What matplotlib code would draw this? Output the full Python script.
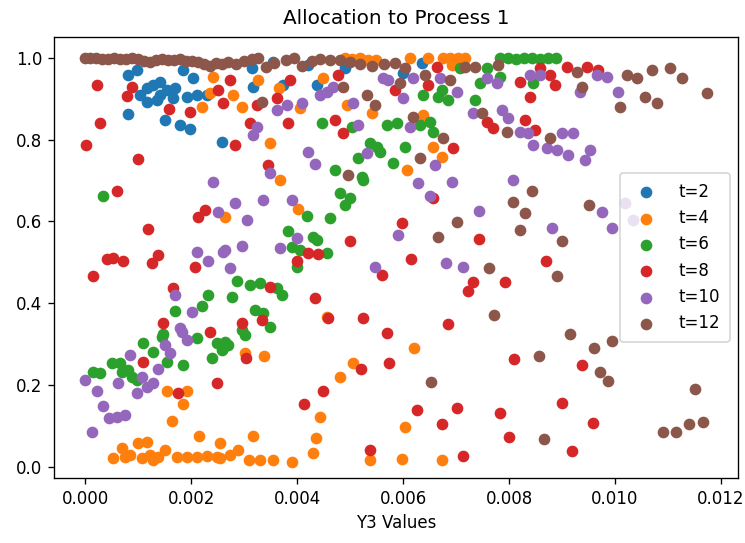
import numpy as np
import matplotlib
matplotlib.use("Agg")
import matplotlib.pyplot as plt

# Y3 values are listed in units of 1e-3, allocations as fractions.
t2_points = [
    (0.81, 0.958), (0.97, 0.971), (0.81, 0.863), (1.17, 0.927), (1.28, 0.934),
    (1.41, 0.941), (1.54, 0.922), (1.17, 0.892), (1.36, 0.897), (1.66, 0.902),
    (1.92, 0.905), (2.11, 0.910), (2.30, 0.910), (1.51, 0.848), (1.79, 0.836),
    (1.97, 0.826), (1.84, 0.971), (2.04, 0.951), (2.58, 0.795), (3.15, 0.976),
    (3.54, 0.990), (3.17, 0.929), (3.74, 0.934), (4.37, 0.934), (4.91, 0.976),
    (4.20, 0.983), (6.36, 0.988), (6.00, 0.963), (1.04, 0.910), (1.69, 0.927),
    (1.41, 0.910),
]

t4_points = [
    (2.41, 0.954), (2.36, 0.914), (2.21, 0.880), (2.79, 0.910), (2.96, 0.880),
    (3.26, 0.946), (3.65, 0.927), (4.06, 0.878), (3.49, 0.792), (3.68, 0.702),
    (4.94, 0.885), (5.42, 0.866), (4.49, 0.951),
    (4.91, 1.000), (5.04, 0.998), (5.19, 1.000), (5.34, 0.995), (5.49, 0.995),
    (6.13, 1.000), (6.47, 1.000), (6.75, 1.000), (6.88, 1.000), (7.03, 1.000),
    (7.17, 1.000), (6.92, 0.983),
    (6.38, 0.861), (6.57, 0.782), (6.73, 0.758), (6.07, 0.726), (4.02, 0.631),
    (2.64, 0.611), (4.57, 0.367),
    (1.54, 0.186), (1.93, 0.186), (1.85, 0.154), (1.64, 0.112), (2.15, 0.076),
    (2.54, 0.059),
    (0.53, 0.022), (0.69, 0.046), (0.84, 0.029), (0.99, 0.059), (1.17, 0.061),
    (1.08, 0.022), (1.23, 0.029), (1.38, 0.024), (1.51, 0.042), (1.73, 0.024),
    (1.93, 0.024), (2.11, 0.024), (2.30, 0.027), (2.49, 0.024), (0.75, 0.024),
    (1.28, 0.017),
    (3.02, 0.279), (3.37, 0.271), (5.05, 0.254), (4.81, 0.220), (4.43, 0.122),
    (4.35, 0.071), (4.30, 0.034), (3.91, 0.012), (3.54, 0.017), (3.30, 0.017),
    (3.09, 0.017), (2.89, 0.042), (2.74, 0.029), (2.54, 0.022), (3.17, 0.076),
    (5.38, 0.017),
    (6.21, 0.291), (6.03, 0.098), (5.98, 0.020), (6.73, 0.017),
]

t6_points = [
    (7.83, 1.000), (7.98, 1.000), (8.14, 0.998), (8.28, 1.000), (8.43, 1.000),
    (8.58, 0.998), (8.73, 1.000), (8.89, 1.000),
    (7.58, 0.976), (7.83, 0.954), (7.45, 0.939), (7.07, 0.976), (6.73, 0.922),
    (6.38, 0.910), (6.66, 0.905), (6.85, 0.897), (7.36, 0.897), (8.45, 0.939),
    (5.89, 0.841), (6.32, 0.836), (6.51, 0.844), (6.57, 0.819), (6.03, 0.782),
    (5.81, 0.743),
    (4.47, 0.841), (5.04, 0.831), (5.70, 0.836), (5.38, 0.792), (5.51, 0.782),
    (5.57, 0.770), (5.15, 0.756), (4.72, 0.726), (5.22, 0.709), (5.24, 0.702),
    (4.81, 0.670), (5.00, 0.658), (4.91, 0.641), (4.19, 0.614), (4.63, 0.609),
    (3.83, 0.577), (4.30, 0.562), (4.37, 0.555), (3.91, 0.538), (4.06, 0.531),
    (4.57, 0.523), (4.00, 0.489),
    (2.87, 0.455), (3.11, 0.445), (3.30, 0.450), (3.63, 0.438), (3.72, 0.421),
    (2.78, 0.416), (3.21, 0.384), (3.36, 0.377), (3.49, 0.342), (2.96, 0.335),
    (0.34, 0.663), (2.32, 0.421), (2.21, 0.394), (1.69, 0.381), (1.47, 0.325),
    (1.10, 0.303), (1.45, 0.318), (1.28, 0.281), (1.54, 0.257), (1.85, 0.249),
    (2.11, 0.315), (2.39, 0.267), (2.49, 0.303),
    (0.15, 0.232), (0.28, 0.230), (0.51, 0.254), (0.66, 0.254), (0.69, 0.232),
    (0.81, 0.237), (0.88, 0.220), (0.98, 0.213),
    (2.58, 0.286), (2.64, 0.306), (2.70, 0.298), (2.60, 0.291), (3.02, 0.323),
]

t8_points = [
    (0.23, 0.934), (0.28, 0.841), (0.01, 0.787), (0.99, 0.753), (0.88, 0.929),
    (0.79, 0.907), (1.58, 0.875), (1.98, 0.868), (2.51, 0.922), (2.60, 0.890),
    (2.74, 0.946), (3.24, 0.885), (3.63, 0.902), (3.87, 0.946), (3.11, 0.841),
    (3.83, 0.841), (2.83, 0.787), (4.72, 0.848), (4.87, 0.817), (4.77, 0.958),
    (3.45, 0.738),
    (6.64, 0.978), (5.85, 0.922), (6.47, 0.934), (8.21, 0.941), (8.40, 0.905),
    (8.86, 0.934), (8.77, 0.958), (8.58, 0.976), (8.30, 0.848), (7.58, 0.844),
    (7.70, 0.829), (8.49, 0.824), (6.94, 0.780), (9.10, 0.978), (9.47, 0.978),
    (9.68, 0.971),
    (0.60, 0.675), (1.19, 0.582), (0.41, 0.509), (0.53, 0.511), (0.71, 0.504),
    (0.14, 0.467), (1.26, 0.499), (1.38, 0.518), (2.08, 0.489), (2.13, 0.611),
    (2.26, 0.628), (1.66, 0.438), (1.47, 0.352), (2.36, 0.330),
    (5.00, 0.553), (4.20, 0.523), (4.39, 0.521), (4.00, 0.504), (5.61, 0.469),
    (3.49, 0.440), (4.34, 0.413), (4.59, 0.364), (5.24, 0.364), (2.96, 0.352),
    (3.34, 0.359), (5.70, 0.328),
    (6.57, 0.658), (5.98, 0.597), (7.44, 0.557), (6.15, 0.509), (7.32, 0.452),
    (7.23, 0.430), (7.92, 0.452), (8.70, 0.504), (6.85, 0.350),
    (1.10, 0.257), (1.75, 0.181), (2.49, 0.205), (3.04, 0.267), (4.49, 0.186),
    (4.13, 0.154), (5.20, 0.240), (5.74, 0.254), (5.38, 0.042),
    (6.27, 0.139), (7.01, 0.144), (6.73, 0.105), (7.14, 0.027), (7.83, 0.132),
    (8.10, 0.264), (7.99, 0.073), (8.99, 0.156), (9.38, 0.249), (9.58, 0.108),
    (9.19, 0.039),
]

t10_points = [
    (2.41, 0.697), (3.63, 0.873), (3.81, 0.885), (4.09, 0.890), (3.24, 0.831),
    (3.17, 0.812), (4.43, 0.910), (4.57, 0.917), (4.68, 0.929), (5.05, 0.890),
    (5.15, 0.836), (4.20, 0.770), (4.34, 0.741), (3.49, 0.719), (5.32, 0.768),
    (5.62, 0.951), (5.72, 0.946),
    (6.00, 0.902), (6.18, 0.951), (6.70, 0.951), (7.01, 0.917), (7.58, 0.951),
    (7.77, 0.939), (7.32, 0.866), (7.86, 0.873), (7.98, 0.853), (8.21, 0.819),
    (8.36, 0.817), (8.45, 0.787), (8.71, 0.780), (8.91, 0.775), (9.00, 0.817),
    (6.13, 0.831), (6.60, 0.738), (6.29, 0.694), (6.92, 0.697), (8.08, 0.702),
    (8.40, 0.958), (8.58, 0.958),
    (9.66, 0.958), (9.85, 0.954), (9.34, 0.917), (10.06, 0.917), (9.21, 0.817),
    (9.53, 0.775), (9.12, 0.763), (9.43, 0.751),
    (2.51, 0.623), (2.11, 0.526), (2.32, 0.504), (1.69, 0.421), (2.02, 0.379),
    (1.79, 0.340), (2.60, 0.526), (2.83, 0.645), (3.36, 0.653), (3.91, 0.653),
    (3.06, 0.604), (2.64, 0.531), (2.96, 0.540), (3.68, 0.535), (4.00, 0.560),
    (2.74, 0.487), (5.47, 0.489),
    (6.51, 0.663), (7.44, 0.626), (5.90, 0.567), (6.81, 0.499), (7.14, 0.489),
    (8.81, 0.584), (9.76, 0.623), (9.95, 0.584), (10.19, 0.645), (10.34, 0.604),
    (0.00, 0.213), (0.23, 0.186), (0.34, 0.149), (0.45, 0.120), (0.60, 0.122),
    (0.75, 0.127), (0.13, 0.086), (0.62, 0.205), (0.84, 0.274), (1.08, 0.220),
    (0.97, 0.181), (1.17, 0.196), (1.28, 0.205), (1.38, 0.240), (1.51, 0.298),
    (1.60, 0.279), (1.83, 0.330), (1.93, 0.311),
]

t12_points = [
    (0.00, 1.000), (0.10, 1.000), (0.21, 1.000), (0.32, 0.998), (0.43, 0.998),
    (0.55, 1.000), (0.66, 0.998), (0.77, 0.998), (0.88, 1.000), (0.99, 0.998),
    (1.11, 0.993), (1.23, 0.990), (1.34, 0.995), (1.45, 0.998), (1.56, 0.995),
    (1.67, 0.995), (1.79, 0.998), (1.91, 0.993), (2.02, 0.993), (2.13, 0.990),
    (2.24, 0.985), (2.36, 0.980), (2.47, 0.988), (2.58, 0.985), (2.70, 0.990),
    (2.85, 0.985), (3.00, 0.993), (3.15, 0.998), (3.26, 1.000), (3.41, 0.978),
    (3.56, 0.988), (3.79, 0.995), (3.94, 1.000), (4.09, 0.980), (4.28, 0.993),
    (4.43, 0.998), (4.62, 0.995), (4.81, 0.995), (5.00, 0.990), (5.18, 0.985),
    (5.42, 0.980), (5.64, 0.985),
    (5.85, 0.988), (6.03, 0.976), (6.42, 0.958), (6.88, 0.946), (7.17, 0.978),
    (7.36, 0.978), (7.79, 0.983), (5.94, 0.939), (6.18, 0.856), (7.49, 0.866),
    (7.96, 0.819), (6.75, 0.804), (6.32, 0.756), (8.77, 0.804), (4.87, 0.929),
    (5.32, 0.910), (5.47, 0.885), (3.34, 0.892), (4.96, 0.714),
    (9.28, 0.966), (9.38, 0.929), (10.23, 0.958), (10.41, 0.951), (10.70, 0.971),
    (11.04, 0.976), (11.26, 0.951), (10.56, 0.905), (10.80, 0.890), (10.10, 0.880),
    (11.74, 0.914),
    (8.43, 0.675), (8.08, 0.648), (8.30, 0.621), (8.21, 0.579), (7.01, 0.599),
    (6.66, 0.562), (7.62, 0.487), (8.91, 0.467), (9.00, 0.553), (9.51, 0.641),
    (7.72, 0.372), (9.15, 0.325), (9.60, 0.291), (9.95, 0.308), (9.71, 0.232),
    (9.87, 0.210), (11.51, 0.191), (10.91, 0.086), (11.15, 0.086), (11.39, 0.105),
    (11.66, 0.110), (6.53, 0.208), (8.56, 0.271), (8.66, 0.068),
]

series = [
    ("t=2", t2_points),
    ("t=4", t4_points),
    ("t=6", t6_points),
    ("t=8", t8_points),
    ("t=10", t10_points),
    ("t=12", t12_points),
]

fig = plt.figure(figsize=(745 / 120, 543 / 120), dpi=120)
ax = fig.add_axes([54 / 745, 1 - 478 / 543, (738 - 54) / 745, (478 - 37) / 543])

for label, pts in series:
    arr = np.array(pts)
    ax.scatter(arr[:, 0] * 1e-3, arr[:, 1], label=label)

ax.set_xlim(-0.000587, 0.01232)
ax.set_ylim(-0.027, 1.051)
ax.set_xticks(np.arange(0, 0.0121, 0.002))
ax.set_title("Allocation to Process 1", pad=8)
ax.set_xlabel("Y3 Values")
ax.legend(loc="center right", borderpad=0.6, handletextpad=0.9)

fig.savefig("out.png", dpi=120)
